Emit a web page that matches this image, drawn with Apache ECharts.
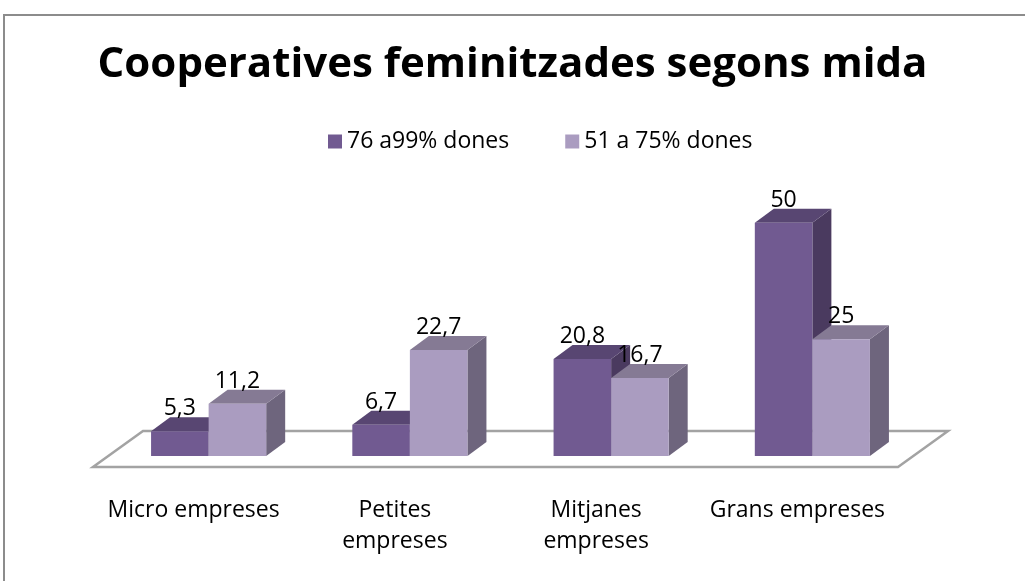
<!DOCTYPE html>
<html>
<head>
<meta charset="utf-8">
<script src="https://cdn.jsdelivr.net/npm/echarts@6/dist/echarts.min.js"></script>
<style>
html, body { margin: 0; padding: 0; background: #fff; }
#main { width: 1025px; height: 581px; }
</style>
</head>
<body>
<div id="main"></div>
<script>
// dades
var categories = ['Micro empreses', 'Petites\nempreses', 'Mitjanes\nempreses', 'Grans empreses'];
var nomsSeries = ['76 a99% dones', '51 a 75% dones'];
var valors76 = [5.3, 6.7, 20.8, 50];
var valors51 = [11.2, 22.7, 16.7, 25];

// perspectiva (pixels)
var FONS_X = 50, FONS_Y = -36;     // profunditat del terra
var DESP_X = 15, DESP_Y = -11;     // posicio de la cara frontal de les barres
var PROF_X = 19, PROF_Y = -14;     // profunditat de cada barra

var colors = [
     { front: '#715a91', top: '#584672', side: '#4a3a5f' },
     { front: '#aa9cc0', top: '#857a94', side: '#6e657d' }
];

function fmt(v) {
     return String(v).replace('.', ',');
}

function barra3D(idx) {
     return function (params, api) {
          var cat = api.value(0), v = api.value(1);
          var base = api.coord([cat, 0]);
          var alt = api.coord([cat, v]);
          var w = api.size([1, 0])[0] * 0.286;
          var x0 = base[0] + DESP_X + (idx === 0 ? -w : 0);
          var x1 = x0 + w;
          var yb = base[1] + DESP_Y;
          var yt = alt[1] + DESP_Y;
          var c = colors[idx];
          return {
               type: 'group',
               children: [{
                    type: 'polygon',
                    shape: { points: [[x1, yt], [x1 + PROF_X, yt + PROF_Y], [x1 + PROF_X, yb + PROF_Y], [x1, yb]] },
                    style: { fill: c.side }
               }, {
                    type: 'polygon',
                    shape: { points: [[x0, yt], [x1, yt], [x1 + PROF_X, yt + PROF_Y], [x0 + PROF_X, yt + PROF_Y]] },
                    style: { fill: c.top }
               }, {
                    type: 'rect',
                    shape: { x: x0, y: yt, width: w, height: yb - yt },
                    style: { fill: c.front }
               }, {
                    type: 'text',
                    x: (x0 + x1) / 2,
                    y: yt - 11,
                    style: {
                         text: fmt(v),
                         fill: '#000',
                         font: '23px "Open Sans"',
                         align: 'center',
                         verticalAlign: 'bottom'
                    }
               }]
          };
     };
}

function terra(params, api) {
     var cs = params.coordSys;
     var yF = cs.y + cs.height;
     return {
          type: 'polygon',
          shape: {
               points: [[cs.x, yF], [cs.x + cs.width, yF],
                    [cs.x + cs.width + FONS_X, yF + FONS_Y], [cs.x + FONS_X, yF + FONS_Y]]
          },
          style: { fill: '#fff', stroke: '#a3a3a3', lineWidth: 2.5 }
     };
}

var chart = echarts.init(document.getElementById('main'));

chart.setOption({
     animation: false,
     textStyle: { fontFamily: 'Open Sans' },
     title: {
          text: 'Cooperatives feminitzades segons mida',
          left: 'center',
          top: 39,
          textStyle: { fontSize: 42, fontWeight: 'bold', color: '#000', fontFamily: 'Open Sans' }
     },
     legend: {
          data: nomsSeries,
          left: 323,
          top: 125,
          icon: 'rect',
          itemWidth: 14,
          itemHeight: 14,
          itemGap: 56,
          textStyle: { fontSize: 23, color: '#000' }
     },
     graphic: [{
          type: 'rect',
          shape: { x: 4, y: 15, width: 1100, height: 700 },
          style: { fill: 'none', stroke: '#8c8c8c', lineWidth: 2 },
          z: 100
     }],
     grid: {
          left: 93,
          right: 127,
          top: 187,
          bottom: 114
     },
     xAxis: {
          type: 'category',
          data: categories,
          axisLine: { show: false },
          axisTick: { show: false },
          axisLabel: {
               fontSize: 23,
               color: '#000',
               lineHeight: 31,
               margin: 28,
               interval: 0
          }
     },
     yAxis: {
          type: 'value',
          min: 0,
          max: 60,
          show: false
     },
     series: [{
          type: 'custom',
          name: 'terra',
          silent: true,
          z: 1,
          renderItem: terra,
          data: [[0, 0]]
     }, {
          type: 'custom',
          name: nomsSeries[0],
          z: 2,
          itemStyle: { color: colors[0].front },
          renderItem: barra3D(0),
          data: valors76.map(function (v, i) { return [i, v]; })
     }, {
          type: 'custom',
          name: nomsSeries[1],
          z: 3,
          itemStyle: { color: colors[1].front },
          renderItem: barra3D(1),
          data: valors51.map(function (v, i) { return [i, v]; })
     }]
});
</script>
</body>
</html>
